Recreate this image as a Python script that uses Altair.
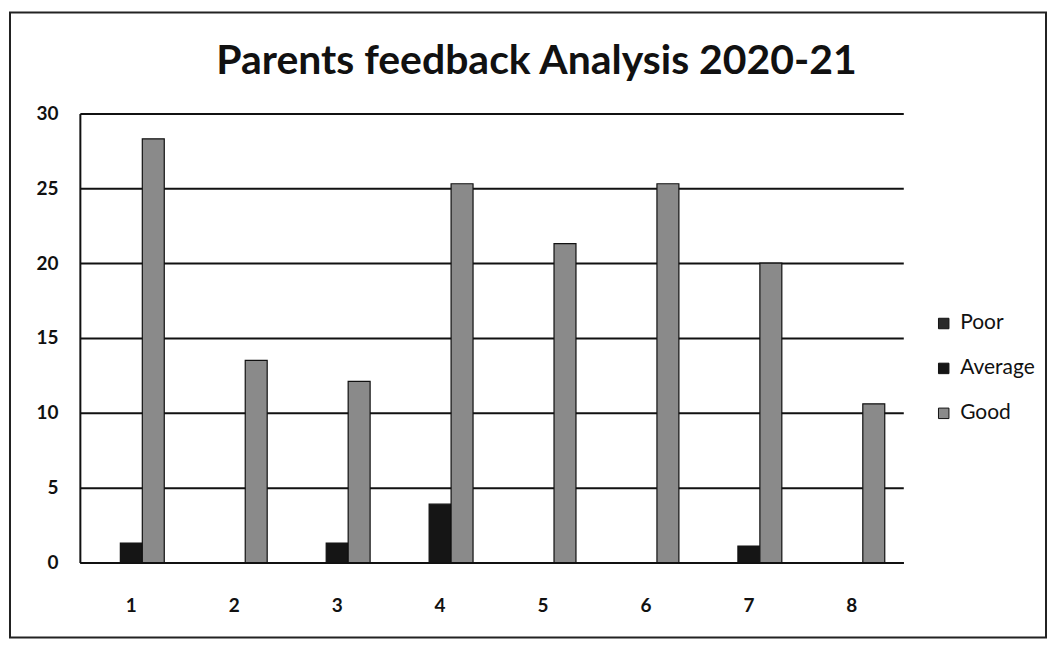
import altair as alt
import pandas as pd

categories = ["1", "2", "3", "4", "5", "6", "7", "8"]
series = ["Poor", "Average", "Good"]
poor = [0, 0, 0, 0, 0, 0, 0, 0]
average = [1.3, 0, 1.3, 3.9, 0, 0, 1.1, 0]
good = [28.3, 13.5, 12.1, 25.3, 21.3, 25.3, 20.0, 10.6]
colors = ["#2a2a2a", "#151515", "#8a8a8a"]

rows = []
for i, c in enumerate(categories):
    for s, vals in zip(series, [poor, average, good]):
        rows.append({"Category": c, "Series": s, "Value": vals[i]})
df = pd.DataFrame(rows)

W, H = 825, 450
FONT = "Lato"

bars = alt.Chart(df).mark_bar(stroke="#111", strokeWidth=1.2).encode(
    x=alt.X("Category:N", sort=categories, title=None,
            scale=alt.Scale(paddingInner=0.36, paddingOuter=0.18),
            axis=alt.Axis(labelAngle=0, labelFontSize=19, labelFontWeight="bold",
                          labelColor="#111", labelFont=FONT, ticks=False,
                          labelPadding=34, domainColor="#111", domainWidth=2)),
    xOffset=alt.XOffset("Series:N", sort=series, scale=alt.Scale(paddingInner=0, paddingOuter=0)),
    y=alt.Y("Value:Q", title=None,
            scale=alt.Scale(domain=[0, 30], nice=False),
            axis=alt.Axis(values=[0, 5, 10, 15, 20, 25, 30], labelFontSize=19,
                          labelFontWeight="bold", labelColor="#111", labelFont=FONT,
                          ticks=False, labelPadding=22, grid=True, gridColor="#111",
                          gridWidth=2, domainColor="#111", domainWidth=2)),
    color=alt.Color("Series:N", sort=series,
                    scale=alt.Scale(domain=series, range=colors),
                    legend=alt.Legend(title=None, orient="none", legendX=855, legendY=200,
                                      symbolType="square", symbolSize=110,
                                      symbolStrokeColor="#111", symbolStrokeWidth=1,
                                      labelFontSize=21, labelFont=FONT, labelColor="#111",
                                      rowPadding=23, labelOffset=6)),
)

border = alt.Chart(pd.DataFrame({"a": [0]})).mark_rect(
    fill=None, stroke="#222", strokeWidth=2
).encode(
    x=alt.value(-70), x2=alt.value(968), y=alt.value(-101), y2=alt.value(525)
)

chart = alt.layer(border, bars).properties(
    width=W, height=H,
    title=alt.TitleParams("Parents feedback Analysis 2020-21", fontSize=41,
                          font=FONT, fontWeight="bold", color="#111",
                          anchor="middle", dx=45, offset=-72),
    autosize=alt.AutoSizeParams(type="none"),
    padding={"left": 72, "top": 105, "right": 148, "bottom": 78},
).configure(background="white", view=alt.ViewConfig(stroke=None))

chart.save("out.html", embed_options={"renderer": "svg", "actions": False})
